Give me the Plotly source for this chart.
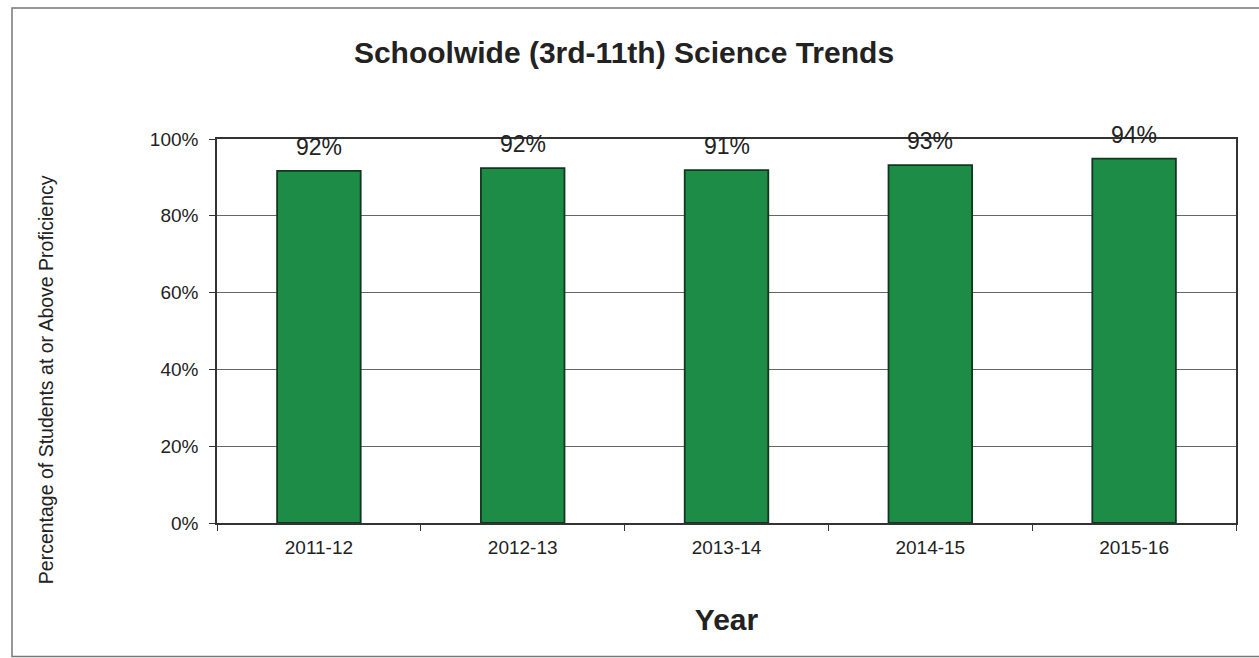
import plotly.graph_objects as go

years = ["2011-12", "2012-13", "2013-14", "2014-15", "2015-16"]
proficiency = [0.917, 0.924, 0.919, 0.932, 0.949]
value_labels = ["92%", "92%", "91%", "93%", "94%"]
y_ticks = [0, 0.2, 0.4, 0.6, 0.8, 1.0]
y_tick_text = ["0%", "20%", "40%", "60%", "80%", "100%"]

FONT = "Liberation Sans, Arial, sans-serif"

fig = go.Figure()
fig.add_trace(go.Bar(
    x=years, y=proficiency,
    marker=dict(color="#1d8c47", line=dict(color="#12361f", width=1.8)),
    width=0.41,
    hoverinfo="skip",
))

for yr, v, lab in zip(years, proficiency, value_labels):
    fig.add_annotation(x=yr, y=v, text=lab, showarrow=False,
                       yanchor="bottom", yshift=9,
                       font=dict(family=FONT, size=23, color="#222"))

# Outer chart frame (left / top / bottom edges as in the reference)
L, R, T, B = 217, 1236, 139, 522.7
def px(x):
    return (x - L) / (R - L)
def py(y):
    return (B - y) / (B - T)
fig.add_shape(type="rect", xref="paper", yref="paper",
              x0=px(12), x1=px(1265), y0=py(656), y1=py(8),
              line=dict(color="#777", width=1.5), layer="below")

fig.add_annotation(xref="paper", yref="paper", x=px(33), y=py(380),
                   text="Percentage of Students at or Above Proficiency",
                   textangle=-90, showarrow=False,
                   font=dict(family=FONT, size=19.5, color="#222"))

fig.update_layout(
    width=1259, height=658,
    margin=dict(l=217, r=23, t=139, b=135),
    paper_bgcolor="white", plot_bgcolor="white",
    showlegend=False,
    title=dict(text="<b>Schoolwide (3rd-11th) Science Trends</b>",
               x=(624) / 1259, xanchor="center", y=1 - 52 / 658, yanchor="middle",
               font=dict(family=FONT, size=30, color="#222")),
    xaxis=dict(
        type="category",
        title=dict(text="<b>Year</b>", font=dict(family=FONT, size=30, color="#222"), standoff=52),
        tickfont=dict(family=FONT, size=19, color="#222"),
        showline=True, linecolor="#333", linewidth=1.5, mirror=True,
        ticks="outside", ticklen=6, tickcolor="#333", tickson="boundaries",
        ticklabelstandoff=6,
        showgrid=False,
    ),
    yaxis=dict(
        range=[0, 1.0], tickvals=y_ticks, ticktext=y_tick_text,
        tickfont=dict(family=FONT, size=19, color="#222"),
        showline=True, linecolor="#333", linewidth=1.5, mirror=True,
        ticks="outside", ticklen=6, tickcolor="#333",
        ticklabelstandoff=7,
        showgrid=True, gridcolor="#666", gridwidth=1,
        zeroline=False,
    ),
    bargap=0.59,
)

fig.write_html("out.html")
